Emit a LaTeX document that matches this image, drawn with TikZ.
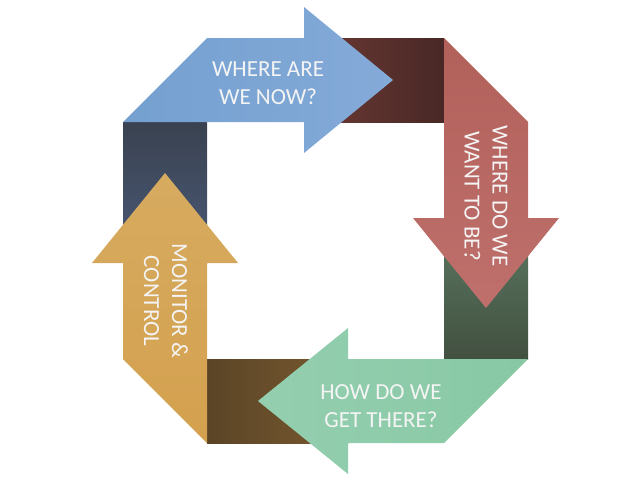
\documentclass[tikz,border=0pt]{standalone}
\usepackage{fontspec}
\setmainfont{Carlito}
\definecolor{txt}{RGB}{244,244,244}
\definecolor{bandRedL}{RGB}{110,58,52}
\definecolor{bandRedR}{RGB}{72,40,38}
\definecolor{bandGreenT}{RGB}{92,122,100}
\definecolor{bandGreenB}{RGB}{66,80,64}
\definecolor{bandBrownL}{RGB}{90,68,38}
\definecolor{bandBrownR}{RGB}{122,90,48}
\definecolor{bandBlueT}{RGB}{58,66,80}
\definecolor{bandBlueB}{RGB}{74,90,120}
\definecolor{blueL}{RGB}{116,160,208}
\definecolor{blueR}{RGB}{132,170,216}
\definecolor{redT}{RGB}{178,96,90}
\definecolor{redB}{RGB}{191,112,108}
\definecolor{greenL}{RGB}{148,207,176}
\definecolor{greenR}{RGB}{136,200,164}
\definecolor{goldT}{RGB}{214,171,96}
\definecolor{goldB}{RGB}{212,160,78}
\tikzset{
  label/.style={text=txt, align=center, inner sep=0pt,
    font=\fontsize{23}{28}\selectfont}
}
\begin{document}
\begin{tikzpicture}[x=1pt,y=-1pt]
\useasboundingbox (0,0) rectangle (640,480);
% bands
\shade[left color=bandRedL, right color=bandRedR] (304,38) rectangle (444,122);
\shade[top color=bandGreenT, bottom color=bandGreenB] (444,218) rectangle (528,359);
\shade[left color=bandBrownL, right color=bandBrownR] (207,359) rectangle (348,443);
\shade[top color=bandBlueT, bottom color=bandBlueB] (123,122) rectangle (207,263);
% arrows
\shade[left color=blueL, right color=blueR]
  (123,122) -- (207,38) -- (304,38) -- (304,7) -- (393,80) -- (304,153) -- (304,122) -- cycle;
\shade[top color=redT, bottom color=redB]
  (444,38) -- (528,122) -- (528,218) -- (559,218) -- (486,308) -- (413,218) -- (444,218) -- cycle;
\shade[left color=greenL, right color=greenR]
  (528,359) -- (444,443) -- (348,443) -- (348,474) -- (258,401) -- (348,328) -- (348,359) -- cycle;
\shade[top color=goldT, bottom color=goldB]
  (207,443) -- (123,359) -- (123,263) -- (92,263) -- (165,173) -- (238,263) -- (207,263) -- cycle;
% labels
\node[label] (now) at (268,83) {WHERE ARE\\WE NOW?};
\node[label, rotate=-90] (want) at (486,196) {WHERE DO WE\\WANT TO BE?};
\node[label] (get) at (381,406) {HOW DO WE\\GET THERE?};
\node[label, rotate=-90] (mon) at (166,301) {MONITOR \&\\CONTROL};
\end{tikzpicture}
\end{document}
